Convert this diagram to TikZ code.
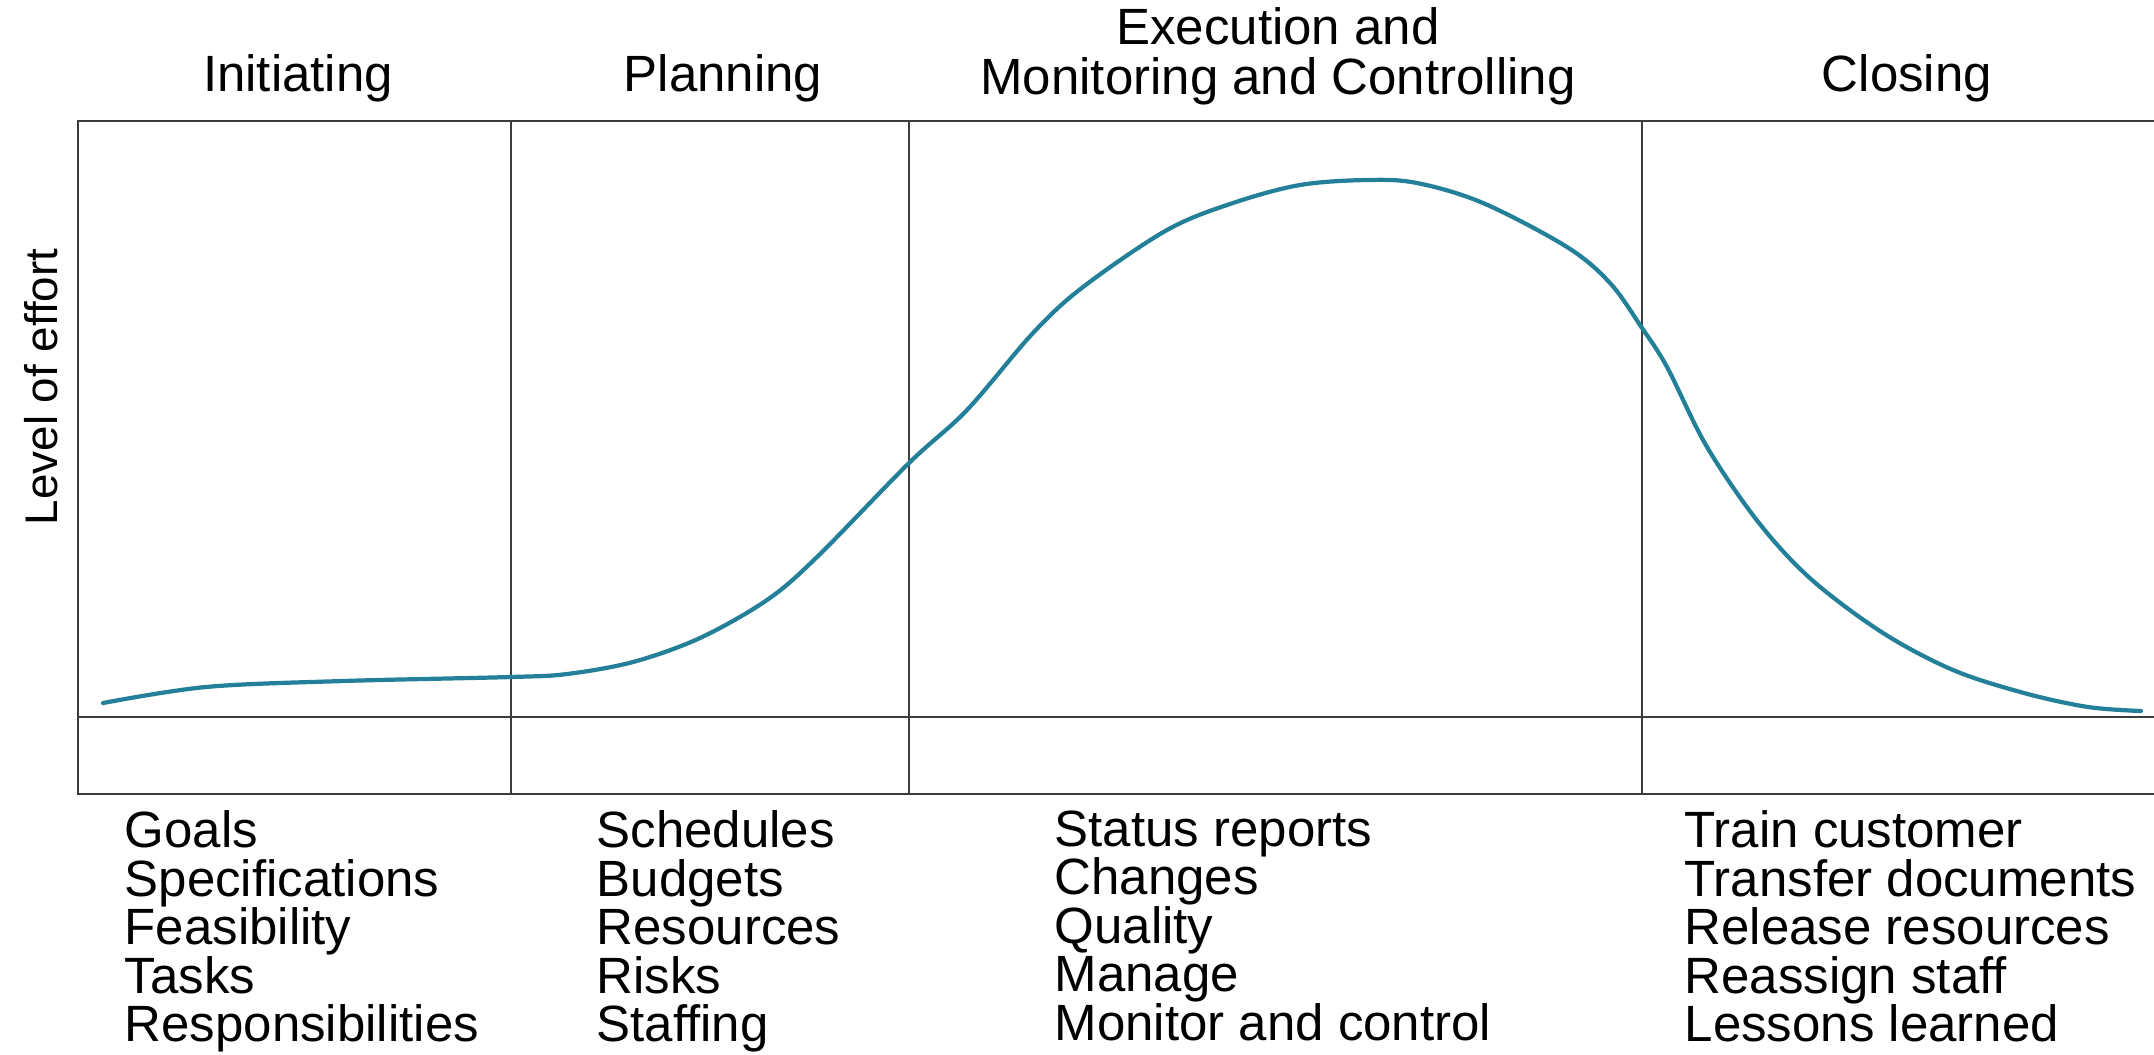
\documentclass[tikz,border=0pt]{standalone}
\usepackage{fontspec}
\setmainfont{Liberation Sans}
\usetikzlibrary{positioning}
\definecolor{curveteal}{RGB}{35,128,152}
\definecolor{framegray}{RGB}{60,60,60}

\begin{document}
\begin{tikzpicture}[x=0.01cm, y=-0.01cm,
  phase/.style={font=\fontsize{14.5}{14.2}\selectfont, align=center, inner sep=0pt},
  task/.style={font=\fontsize{14.5}{13.8}\selectfont, align=left, anchor=north west, inner sep=0pt},
  frame/.style={draw=framegray, line width=0.8pt},
  effort/.style={draw=curveteal, line width=1.2pt, line cap=round}]

  \useasboundingbox (0,0) rectangle (2154,1054);

  % Frame
  \coordinate (tl) at (78,121);
  \coordinate (bl) at (78,794);
  \draw[frame] (2154,121) -- (tl) -- (bl) -- (2154,794);
  \draw[frame] (78,717) -- (2154,717);
  \foreach \x/\n in {511/a, 909/b, 1642/c}
    \draw[frame] (\x,121) coordinate (top\n) -- (\x,794) coordinate (bot\n);

  % Phase titles
  \node[phase] (init) at (298,78) {Initiating};
  \node[phase] (plan) at (723,78) {Planning};
  \node[phase] (exec) at (1278,56) {Execution and\\Monitoring and Controlling};
  \node[phase] (close) at (1907,78) {Closing};

  % Axis label
  \node[phase, font=\fontsize{13}{14}\selectfont, rotate=90] (level) at (41,387) {Level of effort};

  % Effort curve
  \draw[effort] plot[smooth, tension=0.55] coordinates {
    (103,703) (206,687) (343,681) (511,677) (567,674) (633,662)
    (700,638) (767,600) (817,557) (909,463) (967,410) (1033,333)
    (1083,287) (1167,230) (1233,203) (1300,185) (1367,180) (1417,183)
    (1483,203) (1567,247) (1610,283) (1642,328) (1667,367) (1707,447)
    (1759,523) (1812,580) (1883,633) (1953,670) (2024,693) (2088,707)
    (2141,711)};

  % Tasks per phase
  \node[task] (initlist) at (124,810) {Goals\\Specifications\\Feasibility\\Tasks\\Responsibilities};
  \node[task] (planlist) at (596,810) {Schedules\\Budgets\\Resources\\Risks\\Staffing};
  \node[task] (execlist) at (1054,810) {Status reports\\Changes\\Quality\\Manage\\Monitor and control};
  \node[task] (closelist) at (1684,810) {Train customer\\Transfer documents\\Release resources\\Reassign staff\\Lessons learned};

\end{tikzpicture}
\end{document}
